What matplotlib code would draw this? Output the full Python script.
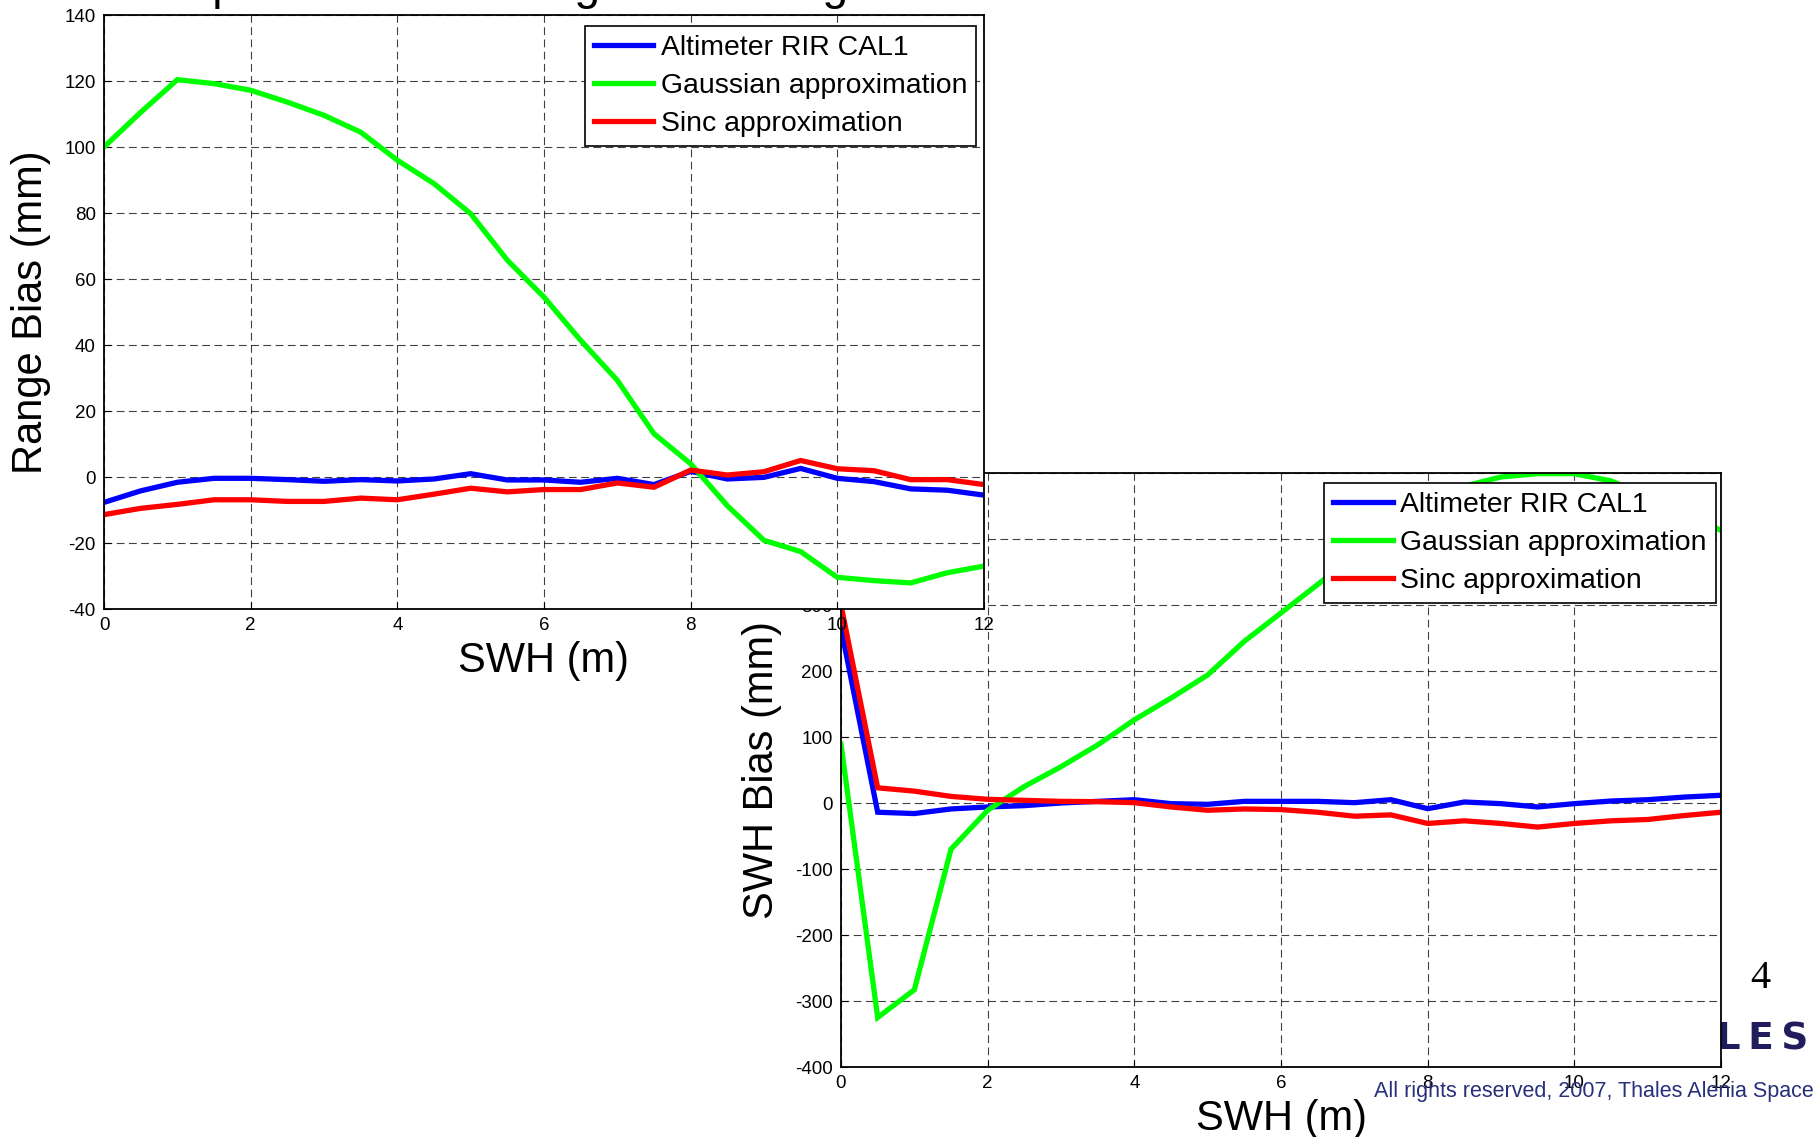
import numpy as np
import matplotlib

matplotlib.use("Agg")
import matplotlib.pyplot as plt

plt.rcParams["font.family"] = ["Liberation Sans", "DejaVu Sans"]
plt.rcParams["axes.unicode_minus"] = False

# SWH grid (m)
swh = np.arange(0, 12.5, 0.5)

# range bias (mm)
range_rir = [-7.7, -4.2, -1.6, -0.4, -0.4, -0.8, -1.3, -0.8, -1.2, -0.6, 1.0, -0.9, -0.9,
             -1.6, -0.4, -2.3, 1.7, -0.6, -0.1, 2.6, -0.4, -1.4, -3.6, -4.0, -5.5]
range_gauss = [100, 110.5, 120.4, 119.2, 117.2, 113.6, 109.6, 104.5, 96, 88.9, 79.8, 65.7, 54.5,
               41.4, 29.3, 13.1, 4, -8.7, -19.2, -22.6, -30.4, -31.4, -32.1, -29, -27]
range_sinc = [-11.4, -9.5, -8.3, -6.9, -6.9, -7.4, -7.4, -6.4, -6.9, -5.2, -3.4, -4.5, -3.8,
              -3.8, -1.8, -3.1, 2.1, 0.6, 1.6, 5.0, 2.5, 1.9, -0.8, -0.8, -2.3]

# SWH bias (mm)
swh_rir = [265, -14, -16, -9, -6, -4, 0, 2.5, 5, -1, -2, 2.5, 2.5,
           2.5, 0.5, 5, -8.6, 1.5, -1, -6, -1, 3, 5, 9, 11.7]
swh_gauss = [89, -325, -283, -70, -11, 25, 55, 88, 126, 159, 194, 245, 288,
             331, 375, 420, 455, 480, 494, 499, 499, 488, 465, 440, 413]
swh_sinc = [300, 23, 18, 10, 5.6, 4, 2.5, 2, 0.5, -6, -11, -9, -10,
            -14, -20, -18, -31, -27, -31, -36.5, -31, -27, -25, -19, -14]

labels = ["Altimeter RIR CAL1", "Gaussian approximation", "Sinc approximation"]
colors = ["#0000ff", "#00ff00", "#ff0000"]

W, H = 1818, 1137
fig = plt.figure(figsize=(W / 100, H / 100), dpi=100)


def px_axes(left, top, right, bottom):
    return fig.add_axes([left / W, 1 - bottom / H, (right - left) / W, (bottom - top) / H])


def style_axes(ax, xlabel, ylabel, ylab_x):
    ax.set_xlim(0, 12)
    ax.set_xticks(range(0, 13, 2))
    ax.grid(True, color="k", linestyle=(0, (7, 4)), linewidth=0.8, alpha=0.75)
    ax.set_axisbelow(True)
    ax.tick_params(direction="in", length=5, labelsize=13.5, pad=6, colors="k")
    for sp in ax.spines.values():
        sp.set_linewidth(1.3)
        sp.set_color("k")
    ax.set_xlabel(xlabel, fontsize=30, va="center")
    ax.xaxis.set_label_coords(0.5, -0.0875)
    ax.set_ylabel(ylabel, fontsize=30, va="center")
    ax.yaxis.set_label_coords(ylab_x, 0.5)


def add_legend(ax, anchor):
    leg = ax.legend(loc="upper right", bbox_to_anchor=anchor, borderaxespad=0,
                    fancybox=False, framealpha=1, edgecolor="k", fontsize=20.4,
                    handlelength=2.1, handletextpad=0.26, labelspacing=0.42, borderpad=0.32)
    leg.get_frame().set_linewidth(1.2)
    leg.set_zorder(10)


# lower-right panel (SWH bias), drawn underneath
ax2 = px_axes(841, 473, 1721, 1067)
ax2.set_zorder(1)
for y, lab, c in zip([swh_rir, swh_gauss, swh_sinc], labels, colors):
    ax2.plot(swh, y, color=c, linewidth=3.8, label=lab, solid_joinstyle="miter")
ax2.set_ylim(-400, 500)
ax2.set_yticks(range(-400, 501, 100))
style_axes(ax2, "SWH (m)", "SWH Bias (mm)", -0.09)
add_legend(ax2, (0.994, 0.983))

# upper-left panel (range bias), drawn on top
ax1 = px_axes(104, 15, 984, 609)
ax1.set_zorder(2)
for y, lab, c in zip([range_rir, range_gauss, range_sinc], labels, colors):
    ax1.plot(swh, y, color=c, linewidth=3.8, label=lab, solid_joinstyle="miter")
ax1.set_ylim(-40, 140)
ax1.set_yticks(range(-40, 141, 20))
style_axes(ax1, "SWH (m)", "Range Bias (mm)", -0.083)
add_legend(ax1, (0.991, 0.9815))

# slide decorations
fig.text(114 / W, 1 + 1 / H, "Comparison of the range bias using", fontsize=33.5,
         ha="left", va="baseline")
fig.text(1760 / W, 1 - 978 / H, "4", fontsize=29, family="Liberation Serif",
         ha="center", va="center")
# logo mostly hidden behind the lower panel
fig.text(1808 / W, 1 - 1040 / H, "T\u2009H\u2009A\u2009L\u2009E\u2009S", fontsize=27,
         family="DejaVu Sans", weight="bold", color="#211d5c", ha="right", va="center",
         zorder=-1)
fig.text(1814 / W, 1 - 1091 / H, "All rights reserved, 2007, Thales Alenia Space",
         fontsize=15.5, color="#28307a", ha="right", va="center", zorder=20)

fig.savefig("out.png", dpi=100)
